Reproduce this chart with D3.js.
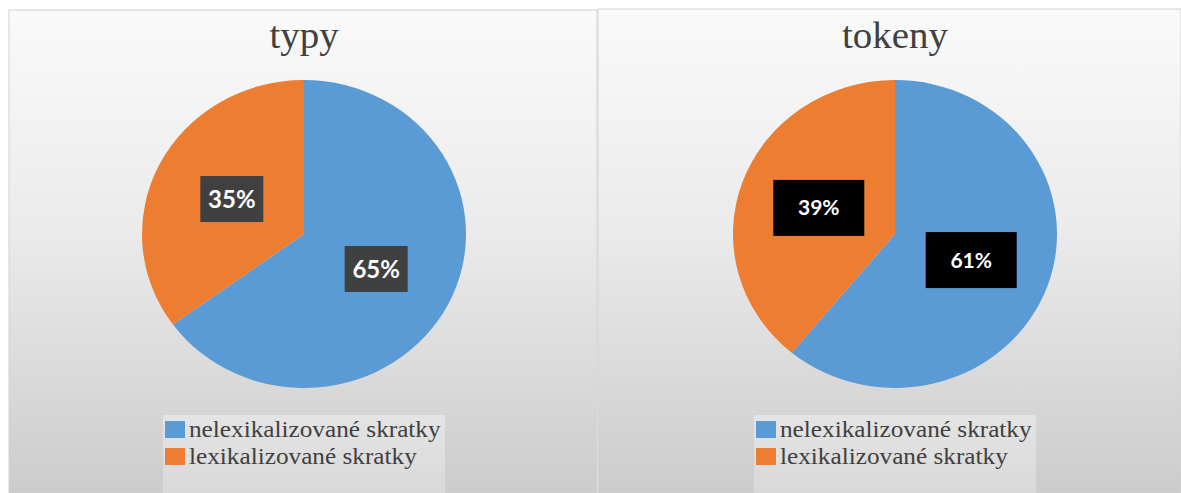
<!DOCTYPE html>
<html>
<head>
<meta charset="utf-8">
<script src="https://cdn.jsdelivr.net/npm/d3@7"></script>
<style>
  html, body { margin: 0; padding: 0; background: #ffffff; }
  svg { display: block; }
</style>
</head>
<body>
<svg id="chart" width="1181" height="493"></svg>
<script>
// Data
const chartTitles = ["typy", "tokeny"];
const categories = ["nelexikalizované skratky", "lexikalizované skratky"];
const typyValues = [65, 35];
const tokenyValues = [61, 39];
const sliceColors = ["#5b9bd5", "#ed7d31"];

const seriesByChart = [typyValues, tokenyValues];

// Layout of the two side-by-side panels
const panels = [
  { x: 9, y: 10, w: 588, cx: 304, labelFill: "#404040", labelSize: 24, boxW: 63, boxH: 46 },
  { x: 598, y: 9, w: 583, cx: 895, labelFill: "#000000", labelSize: 21, boxW: 91, boxH: 56 }
];

const W = 1181, H = 493;
const svg = d3.select("#chart");
const defs = svg.append("defs");

const bg = defs.append("linearGradient").attr("id", "panelBg")
  .attr("x1", 0).attr("y1", 0).attr("x2", 0).attr("y2", 1);
bg.append("stop").attr("offset", "0%").attr("stop-color", "#fafafa");
bg.append("stop").attr("offset", "45%").attr("stop-color", "#ebebeb");
bg.append("stop").attr("offset", "100%").attr("stop-color", "#cccccc");

const lg = defs.append("linearGradient").attr("id", "legendBg")
  .attr("x1", 0).attr("y1", 0).attr("x2", 0).attr("y2", 1);
lg.append("stop").attr("offset", "0%").attr("stop-color", "#e4e4e4");
lg.append("stop").attr("offset", "100%").attr("stop-color", "#d9d9d9");

const R = 154;       // pie radius (vertical)
const sx = 1.052;    // horizontal stretch of the drawing
const cy = 234;

const pie = d3.pie().sort(null).value(d => d);
const arc = d3.arc().innerRadius(0).outerRadius(R);
const color = d3.scaleOrdinal().domain(categories).range(sliceColors);

panels.forEach((p, i) => {
  const values = seriesByChart[i];
  const g = svg.append("g");

  // panel background
  g.append("rect")
    .attr("x", p.x).attr("y", p.y)
    .attr("width", p.w).attr("height", H - p.y)
    .attr("fill", "url(#panelBg)")
    .attr("stroke", "#d2d2d2").attr("stroke-width", 1);

  // title
  g.append("text")
    .attr("transform", `translate(${p.cx},48) scale(${sx},1)`)
    .attr("text-anchor", "middle")
    .attr("font-family", "'Liberation Serif', 'Times New Roman', serif")
    .attr("font-size", 37)
    .attr("fill", "#404040")
    .text(chartTitles[i]);

  // pie slices
  const arcs = pie(values);
  const pg = g.append("g").attr("transform", `translate(${p.cx},${cy}) scale(${sx},1)`);
  pg.selectAll("path")
    .data(arcs)
    .join("path")
    .attr("d", arc)
    .attr("fill", (d, k) => color(categories[k]));

  // data labels
  const lab = g.append("g");
  arcs.forEach(d => {
    const [ax, ay] = arc.centroid(d);
    const lx = p.cx + ax * sx, ly = cy + ay;
    lab.append("rect")
      .attr("x", lx - p.boxW / 2).attr("y", ly - p.boxH / 2)
      .attr("width", p.boxW).attr("height", p.boxH)
      .attr("fill", p.labelFill);
    lab.append("text")
      .attr("x", lx).attr("y", ly)
      .attr("dy", "0.36em")
      .attr("text-anchor", "middle")
      .attr("font-family", "Lato, 'Open Sans', sans-serif")
      .attr("font-weight", "bold")
      .attr("font-size", p.labelSize)
      .attr("fill", "#ffffff")
      .text(d3.format(".0%")(d.data / d3.sum(values)));
  });

  // legend
  const legX = p.cx - 141;
  const lgG = g.append("g");
  lgG.append("rect")
    .attr("x", legX).attr("y", 415)
    .attr("width", 282).attr("height", H - 415)
    .attr("fill", "url(#legendBg)");
  categories.forEach((c, k) => {
    const yy = 421 + k * 27;
    lgG.append("rect")
      .attr("x", legX + 2).attr("y", yy)
      .attr("width", 20).attr("height", 17)
      .attr("fill", color(c));
    lgG.append("text")
      .attr("transform", `translate(${legX + 26},${yy + 16}) scale(${sx},1)`)
      .attr("font-family", "'Liberation Serif', 'Times New Roman', serif")
      .attr("font-size", 24)
      .attr("fill", "#404040")
      .text(c);
  });
});
</script>
</body>
</html>
